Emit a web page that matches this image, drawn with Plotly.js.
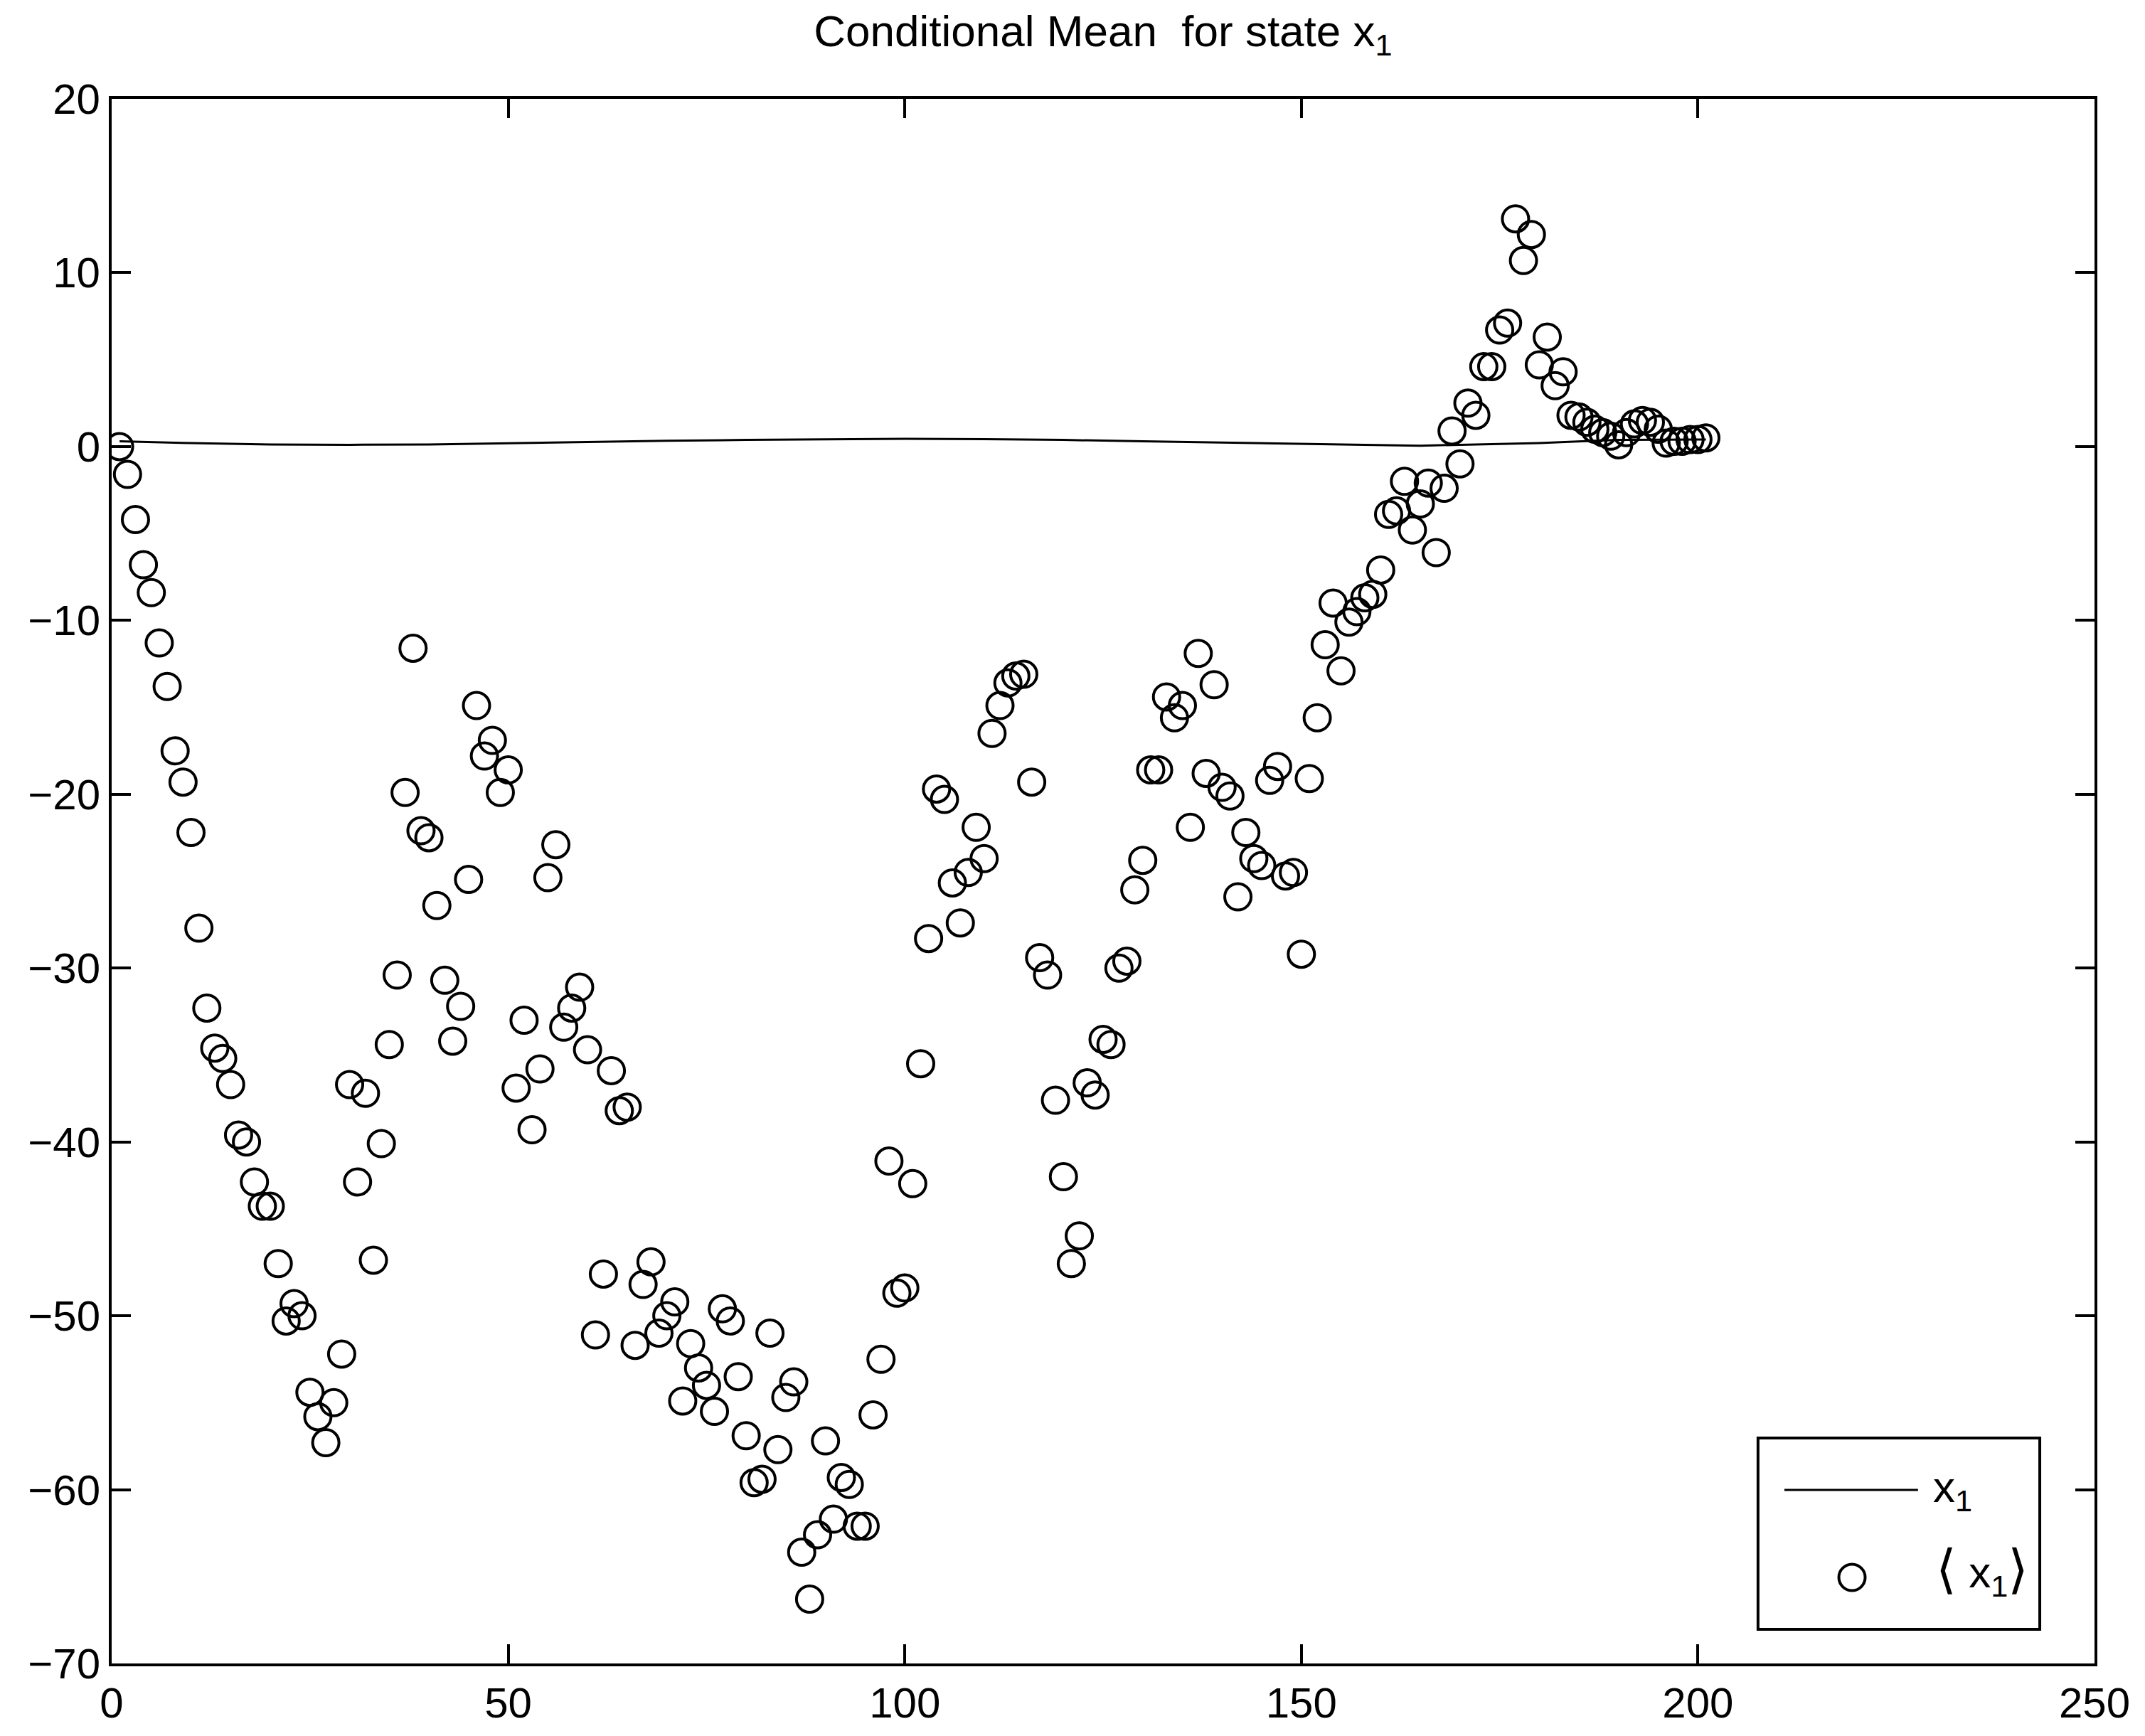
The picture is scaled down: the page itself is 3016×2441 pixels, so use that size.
<!DOCTYPE html>
<html>
<head>
<meta charset="utf-8">
<script src="https://cdn.plot.ly/plotly-3.0.1.min.js"></script>
<style>html,body{margin:0;padding:0;background:#fff;}#chart{width:3016px;height:2441px;}</style>
</head>
<body>
<div id="chart"></div>
<script>
// Conditional mean estimates <x1> at steps 1..201
const meanValues = [
  0.0, -1.6, -4.2, -6.8, -8.4, -11.3, -13.8, -17.5, -19.3, -22.2,
  -27.7, -32.3, -34.6, -35.2, -36.7, -39.6, -40.0, -42.3, -43.7, -43.7,
  -47.0, -50.3, -49.3, -50.0, -54.4, -55.8, -57.3, -55.0, -52.2, -36.7,
  -42.3, -37.2, -46.8, -40.1, -34.4, -30.4, -19.9, -11.6, -22.1, -22.5,
  -26.4, -30.7, -34.2, -32.2, -24.9, -14.9, -17.8, -16.9, -19.9, -18.6,
  -36.9, -33.0, -39.3, -35.8, -24.8, -22.9, -33.4, -32.3, -31.1, -34.7,
  -51.1, -47.6, -35.9, -38.2, -38.0, -51.7, -48.2, -46.9, -51.0, -50.0,
  -49.2, -54.9, -51.6, -53.0, -54.0, -55.5, -49.6, -50.3, -53.5, -56.9,
  -59.6, -59.4, -51.0, -57.7, -54.7, -53.8, -63.6, -66.3, -62.6, -57.2,
  -61.7, -59.3, -59.7, -62.1, -62.1, -55.7, -52.5, -41.1, -48.7, -48.4,
  -42.4, -35.5, -28.3, -19.7, -20.3, -25.1, -27.4, -24.5, -21.9, -23.7,
  -16.5, -14.9, -13.6, -13.2, -13.1, -19.3, -29.4, -30.4, -37.6, -42.0,
  -47.0, -45.4, -36.6, -37.3, -34.1, -34.4, -30.0, -29.6, -25.5, -23.8,
  -18.6, -18.6, -14.4, -15.6, -14.9, -21.9, -11.9, -18.8, -13.7, -19.6,
  -20.1, -25.9, -22.2, -23.7, -24.1, -19.2, -18.4, -24.7, -24.5, -29.2,
  -19.1, -15.6, -11.4, -9.0, -12.9, -10.1, -9.5, -8.7, -8.5, -7.1,
  -3.9, -3.7, -2.0, -4.8, -3.3, -2.1, -6.1, -2.4, 0.9, -1.0,
  2.5, 1.8, 4.6, 4.6, 6.7, 7.1, 13.1, 10.7, 12.2, 4.7,
  6.3, 3.5, 4.3, 1.8, 1.7, 1.4, 1.0, 0.8, 0.6, 0.1,
  0.8, 1.3, 1.5, 1.4, 1.0, 0.2, 0.3, 0.3, 0.4, 0.4,
  0.5
];
const meanSteps = meanValues.map((v, i) => i + 1);

// True state x1 read at selected steps
const stateSteps  = [1, 10, 20, 30, 40, 50, 60, 70, 80, 90, 100, 110, 120, 130, 140, 150, 160, 165, 170, 180, 187, 190, 200, 201];
const stateValues = [0.3, 0.2, 0.12, 0.1, 0.12, 0.2, 0.28, 0.33, 0.38, 0.42, 0.45, 0.42, 0.38, 0.3, 0.22, 0.15, 0.08, 0.05, 0.1, 0.2, 0.33, 0.38, 0.4, 0.4];

const titleText = 'Conditional Mean&nbsp; for state x<sub>1</sub>';
const legendLabels = ['x<sub>1</sub>', '<span style="font-size:74px">\u27E8</span> x<sub>1</sub><span style="font-size:74px">\u27E9</span>'];
const xTicks = [0, 50, 100, 150, 200, 250];
const yTicks = [-70, -60, -50, -40, -30, -20, -10, 0, 10, 20];

const FONT = 'Liberation Sans, Arial, Helvetica, sans-serif';

const traces = [
  {
    x: stateSteps, y: stateValues, mode: 'lines', type: 'scatter',
    line: {color: '#000', width: 3}, name: 'x1', showlegend: false,
    hoverinfo: 'skip'
  },
  {
    x: meanSteps, y: meanValues, mode: 'markers', type: 'scatter',
    marker: {symbol: 'circle-open', size: 37, color: '#000', line: {color: '#000', width: 4}},
    name: '<x1>', showlegend: false
  }
];

const axisCommon = {
  showline: true, linecolor: '#000', linewidth: 4, mirror: 'ticks',
  ticks: 'inside', ticklen: 27, tickwidth: 4, tickcolor: '#000',
  showgrid: false, zeroline: false,
  tickfont: {family: FONT, size: 60, color: '#000'}
};

// custom legend (paper coords)
const lgBox = {x0: 0.8303, x1: 0.9724, y0: 0.0218, y1: 0.1441};
const lgLineY = 0.1109, lgLineX0 = 0.8436, lgLineX1 = 0.9110;
const lgMarkX = 0.8777, lgMarkY = 0.0550;

const layout = {
  width: 3016, height: 2441,
  margin: {l: 157, r: 71, t: 139, b: 102},
  paper_bgcolor: '#fff', plot_bgcolor: '#fff',
  font: {family: FONT, color: '#000', size: 60},
  showlegend: false,
  title: {
    text: titleText, font: {family: FONT, size: 62, color: '#000'},
    x: 0.5, xref: 'paper', xanchor: 'center', y: 0.991, yref: 'container', yanchor: 'top'
  },
  xaxis: Object.assign({}, axisCommon, {range: [0, 250], tickvals: xTicks, ticklabelstandoff: 0}),
  yaxis: Object.assign({}, axisCommon, {range: [-70, 20], tickvals: yTicks, ticklabelstandoff: 0}),
  shapes: [
    {type: 'rect', xref: 'paper', yref: 'paper', x0: lgBox.x0, x1: lgBox.x1, y0: lgBox.y0, y1: lgBox.y1,
     line: {color: '#000', width: 4}, fillcolor: '#fff', layer: 'above'},
    {type: 'line', xref: 'paper', yref: 'paper', x0: lgLineX0, x1: lgLineX1, y0: lgLineY, y1: lgLineY,
     line: {color: '#000', width: 3}, layer: 'above'},
    {type: 'circle', xref: 'paper', yref: 'paper', xsizemode: 'pixel', ysizemode: 'pixel',
     xanchor: lgMarkX, yanchor: lgMarkY, x0: -18.5, x1: 18.5, y0: -18.5, y1: 18.5,
     line: {color: '#000', width: 4}, layer: 'above'}
  ],
  annotations: [
    {xref: 'paper', yref: 'paper', x: 0.9179, y: lgLineY, xanchor: 'left', yanchor: 'middle',
     text: legendLabels[0], showarrow: false, font: {family: FONT, size: 62, color: '#000'}},
    {xref: 'paper', yref: 'paper', x: 0.9193, y: lgMarkY + 0.004, xanchor: 'left', yanchor: 'middle',
     text: legendLabels[1], showarrow: false, font: {family: FONT, size: 62, color: '#000'}}
  ]
};

Plotly.newPlot('chart', traces, layout, {staticPlot: true, displayModeBar: false});
</script>
</body>
</html>
